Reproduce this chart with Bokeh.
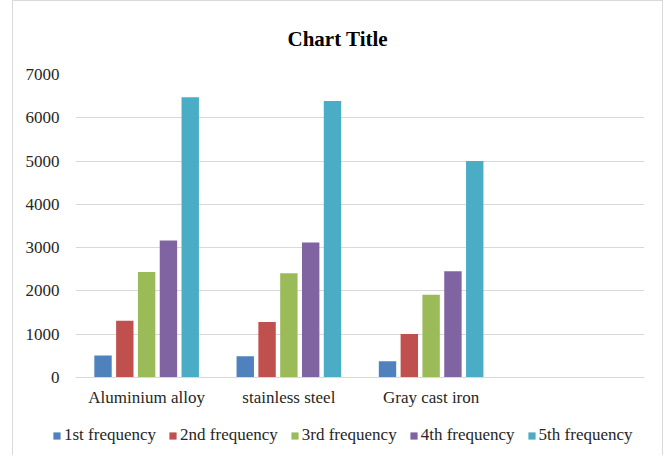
from bokeh.plotting import figure
from bokeh.models import (FactorRange, Range1d, Legend, LegendItem, FixedTicker,
                          ColumnDataSource)
from bokeh.transform import dodge
from bokeh.embed import file_html
from bokeh.resources import INLINE

# ---- data ----
categories = ["Aluminium alloy", "stainless steel", "Gray cast iron"]
series_names = ["1st frequency", "2nd frequency", "3rd frequency",
                "4th frequency", "5th frequency"]
freq1 = [510, 490, 375]
freq2 = [1310, 1280, 1005]
freq3 = [2435, 2410, 1910]
freq4 = [3165, 3120, 2455]
freq5 = [6475, 6385, 5000]
y_ticks = [0, 1000, 2000, 3000, 4000, 5000, 6000, 7000]

colors = ["#4F81BD", "#C0504D", "#9BBB59", "#8064A2", "#4BACC6"]
FONT = "Liberation Serif"
TXT = "#262626"
BORDER = "1px solid #d9d9d9"

x_factors = categories + [" "]  # empty fourth slot as in the reference

src = ColumnDataSource(dict(cat=categories, f1=freq1, f2=freq2, f3=freq3,
                            f4=freq4, f5=freq5))

p = figure(x_range=FactorRange(factors=x_factors, range_padding=0),
           y_range=Range1d(0, 7000),
           width=651, height=414, output_backend="svg", toolbar_location=None,
           min_border_left=62, min_border_right=20, min_border_top=70,
           min_border_bottom=38)
p.styles = {"border-top": BORDER, "border-left": BORDER, "border-right": BORDER,
            "margin-left": "12px"}

p.title.text = "Chart Title"
p.title.text_font = FONT
p.title.text_font_size = "21px"
p.title.text_font_style = "bold"
p.title.text_color = "#000000"
p.title.align = "left"
p.title.offset = 212
p.title.standoff = 47

pitch = 0.1533
bw = 0.1223
cols = ["f1", "f2", "f3", "f4", "f5"]
for i, (c, col) in enumerate(zip(cols, colors)):
    p.vbar(x=dodge("cat", (i - 2) * pitch, range=p.x_range), top=c,
           width=bw, source=src, fill_color=col, line_color=None)

p.yaxis.ticker = FixedTicker(ticks=y_ticks)
p.yaxis.axis_line_color = None
p.yaxis.major_tick_line_color = None
p.yaxis.minor_tick_line_color = None
p.yaxis.major_label_text_font = FONT
p.yaxis.major_label_text_font_size = "17px"
p.yaxis.major_label_text_color = TXT
p.yaxis.major_label_standoff = 10

p.xaxis.axis_line_color = "#d9d9d9"
p.xaxis.major_tick_line_color = None
p.xaxis.minor_tick_line_color = None
p.xaxis.major_label_text_font = FONT
p.xaxis.major_label_text_font_size = "17px"
p.xaxis.major_label_text_color = TXT
p.xaxis.major_label_standoff = 4

p.xgrid.grid_line_color = None
p.ygrid.grid_line_color = "#d9d9d9"
p.outline_line_color = None

# ---- legend strip below the chart (separate root, no frame alignment) ----
p2 = figure(width=651, height=41, x_range=Range1d(0, 1), y_range=Range1d(0, 1),
            x_axis_location=None, y_axis_location=None, toolbar_location=None,
            output_backend="svg", min_border=0)
p2.outline_line_color = None
p2.grid.visible = False
p2.styles = {"border-left": BORDER, "border-right": BORDER,
             "margin-left": "12px"}

items = []
for name, col in zip(series_names, colors):
    # zero-size swatch carrier: draws nothing in the strip itself
    r = p2.vbar(x=[0], top=[0], width=0, fill_color=col, line_color=None)
    items.append(LegendItem(label=name, renderers=[r]))

legend = Legend(items=items, orientation="horizontal", location=(39, 10),
                padding=0, margin=0, spacing=12, label_standoff=3,
                glyph_width=9, glyph_height=9, label_height=20,
                label_text_font=FONT, label_text_font_size="17px",
                label_text_color=TXT, border_line_color=None,
                background_fill_alpha=0)
p2.add_layout(legend)

open("out.html", "w").write(file_html([p, p2], INLINE))
